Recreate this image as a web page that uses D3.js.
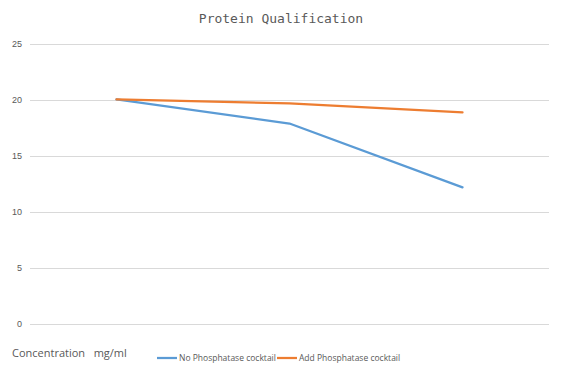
<!DOCTYPE html>
<html>
<head>
<meta charset="utf-8">
<script src="https://cdn.jsdelivr.net/npm/d3@7"></script>
<style>
  body { margin: 0; background: #fff; }
  svg { display: block; }
</style>
</head>
<body>
<svg id="chart" width="561" height="375"></svg>
<script>
// chart data
const categories = ['A', 'B', 'C'];
const noPhos = [20.05, 17.9, 12.2];
const addPhos = [20.05, 19.7, 18.9];
const seriesNames = ['No Phosphatase cocktail', 'Add Phosphatase cocktail'];
const seriesColors = ['#5B9BD5', '#ED7D31'];
const yTicks = [0, 5, 10, 15, 20, 25];

const margin = { top: 44, right: 12, bottom: 51, left: 30 };
const width = 561, height = 375;

let svg = d3.select('#chart');

let x = d3.scaleBand()
    .domain(categories)
    .range([margin.left, width - margin.right]);

let y = d3.scaleLinear()
    .domain([0, 25])
    .range([height - margin.bottom, margin.top]);

// gridlines
svg.append('g')
    .selectAll('line')
    .data(yTicks)
    .enter()
    .append('line')
    .attr('x1', margin.left)
    .attr('x2', width - margin.right)
    .attr('y1', d => Math.round(y(d)) + 0.5)
    .attr('y2', d => Math.round(y(d)) + 0.5)
    .attr('stroke', '#d9d9d9')
    .attr('stroke-width', 1);

// y axis labels
let yAxis = svg.append('g')
    .attr('transform', `translate(${margin.left},0)`)
    .call(d3.axisLeft(y).tickValues(yTicks).tickSize(0).tickPadding(8));
yAxis.select('.domain').remove();
yAxis.selectAll('text')
    .attr('fill', '#595959')
    .style('font-family', 'Liberation Sans, Arial, sans-serif')
    .style('font-size', '9px');

// lines
let line = d3.line()
    .x((d, i) => x(categories[i]) + x.bandwidth() / 2)
    .y(d => y(d));

[noPhos, addPhos].forEach(function(values, i){
    svg.append('path')
        .datum(values)
        .attr('d', line)
        .attr('fill', 'none')
        .attr('stroke', seriesColors[i])
        .attr('stroke-width', 2.25)
        .attr('stroke-linejoin', 'round')
        .attr('stroke-linecap', 'round');
});

// title
svg.append('text')
    .attr('x', 281)
    .attr('y', 23)
    .attr('text-anchor', 'middle')
    .attr('fill', '#595959')
    .style('font-family', 'DejaVu Sans Mono, monospace')
    .style('font-size', '13px')
    .text('Protein Qualification');

// x axis title
svg.append('text')
    .attr('x', 12)
    .attr('y', 357)
    .attr('fill', '#595959')
    .style('font-family', 'Open Sans, Liberation Sans, sans-serif')
    .style('font-size', '11px')
    .text('Concentration\u00a0\u00a0 mg/ml');

// legend
let legendX = [157, 277];
seriesNames.forEach(function(name, i){
    let g = svg.append('g').attr('transform', `translate(${legendX[i]},358)`);
    g.append('line')
        .attr('x1', 0).attr('x2', 20)
        .attr('y1', 0).attr('y2', 0)
        .attr('stroke', seriesColors[i])
        .attr('stroke-width', 2.25);
    g.append('text')
        .attr('x', 22)
        .attr('y', 3)
        .attr('fill', '#595959')
        .style('font-family', 'Open Sans, Liberation Sans, sans-serif')
        .style('font-size', '8.5px')
        .text(name);
});
</script>
</body>
</html>
